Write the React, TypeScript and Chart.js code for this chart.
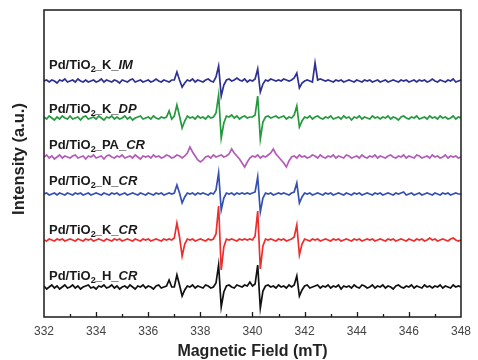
import React, { useEffect, useRef } from "react";
import { Chart, registerables } from "chart.js";

Chart.register(...registerables);

// Sweep grid of the spectra (mT)
const FIELD_START = 332;
const FIELD_STEP = 0.1;
const FIELD_MIN = 332;
const FIELD_MAX = 348;
const fieldTicks = [332, 334, 336, 338, 340, 342, 344, 346, 348];

// Series names
const seriesSites = ["K", "K", "PA", "N", "K", "H"];
const seriesMethods = ["IM", "DP", "CR", "CR", "CR", "CR"];
// Vertical stacking offsets (a.u.)
const seriesOffsets = [236, 199, 160, 123, 77, 30];

// Spectra relative to their offsets, 332.0 .. 348.0 mT every 0.1 mT
const spectrumIM = [
  0, 1, -1, 1, 0, -2, 1, 0, 2, -1,
  0, 1, -1, 2, 0, -1, 1, -1, 0, 1,
  -1, 0, 2, -1, 1, 0, -1, 1, 0, -2,
  1, 0, -1, 1, 2, -1, 0, 1, -1, 0,
  1, -1, 0, 2, 0, -1, 1, 0, -1, 1,
  1, 9, 1, -6, -2, 1, 0, 2, -1, 1,
  0, -1, 1, 2, 0, -1, 4, 15, -15, -4,
  1, 2, 0, 1, 3, 1, 0, 2, -1, 1,
  0, 2, 12, -11, -3, 1, 0, 2, 1, 0,
  1, 0, 2, 1, 0, 1, 3, 8, -7, -2,
  0, 1, 0, -1, 18, 1, 2, 1, 0, 1,
  0, -1, 1, 0, 1, -1, 0, 1, 0, -1,
  1, 0, -1, 1, 0, 1, -1, 0, 1, -1,
  0, 1, -1, 0, 1, 0, -1, 1, 0, 1,
  -1, 0, 1, -1, 1, 0, 1, -1, 0, 2,
  0, -1, 1, 0, -1, 1, 0, 2, -1, 0,
  1,
];
const spectrumDP = [
  1, -1, 2, 0, -2, 1, -1, 2, 0, -1,
  2, -1, 0, 1, -2, 1, 2, -1, 0, 1,
  -1, 2, 0, -2, 1, 0, 2, -1, 1, -1,
  0, 2, -1, 1, -2, 0, 1, 2, -1, 0,
  1, -1, 2, 0, -1, 1, 0, 1, 7, -1,
  2, 13, 2, -10, -3, 2, 0, 1, -1, 2,
  0, 1, -1, 2, 0, 1, 5, 23, -20, -5,
  2, 1, 3, 0, 2, -1, 1, 2, 0, 1,
  1, 3, 22, -21, -4, 1, 2, 0, 1, 2,
  0, 1, 2, -1, 1, 0, 3, 12, -9, -3,
  1, 0, 2, -1, 1, 2, 0, -1, 1, 0,
  2, -1, 0, 1, -1, 2, 0, 1, -2, 1,
  0, 2, -1, 1, 0, -1, 2, 0, 1, -1,
  1, 0, 2, -1, 1, 0, -2, 1, 2, 0,
  -1, 1, 0, 2, -1, 0, 1, -1, 2, 0,
  1, -1, 2, 0, 1, -1, 0, 2, -1, 1,
  0,
];
const spectrumPA = [
  0, 2, -1, 1, -2, 0, 2, -1, 1, 0,
  -1, 1, 2, -1, 0, 1, -2, 1, 0, 2,
  -1, 0, 1, -2, 1, 2, 0, -1, 1, 0,
  2, -1, 0, 1, -1, 2, 0, -2, 1, 0,
  1, -1, 2, 0, 1, -1, 0, 2, 1, -1,
  0, 2, 1, -1, 1, 4, 10, 5, 1, -3,
  -5, -3, 0, 1, -1, 2, 0, 1, 2, 0,
  1, 3, 8, 4, 1, -2, -6, -10, -5, -1,
  1, 0, 2, -1, 1, 0, 2, 4, 8, 3,
  0, -3, -6, -10, -4, 0, 1, -1, 2, 0,
  1, -1, 0, 2, 1, -1, 2, 0, -1, 1,
  0, 2, -1, 1, 0, -1, 2, 1, -1, 0,
  1, -1, 2, 0, -1, 1, 0, 2, -1, 1,
  0, -1, 1, 2, 0, -1, 1, 0, 2, -1,
  1, 0, -1, 2, 1, -1, 0, 1, -1, 2,
  0, 1, -1, 0, 2, -1, 1, 0, 1, -1,
  0,
];
const spectrumN = [
  0, 1, -1, 0, 1, -1, 1, 0, -1, 1,
  0, -1, 1, 0, 1, -1, 0, 1, -1, 0,
  1, 0, -1, 1, 0, -1, 1, 0, 1, -1,
  0, 1, -1, 0, 1, 0, -1, 1, 0, -1,
  1, 0, -1, 1, 0, 1, -1, 0, 1, 0,
  1, 9, 1, -9, -3, 1, 0, 1, -1, 1,
  0, 1, 0, -1, 1, 0, 4, 21, -16, -4,
  1, 0, 1, -1, 1, 0, 1, 0, 1, 0,
  1, 2, 17, -18, -4, 1, 0, 1, -1, 0,
  1, 0, 1, 0, -1, 1, 2, 11, -9, -3,
  1, 0, 1, -1, 0, 1, 0, -1, 1, 0,
  1, -1, 0, 1, 0, -1, 1, 0, -1, 1,
  0, 1, -1, 0, 1, 0, -1, 1, 0, 1,
  -1, 0, 1, 0, -1, 1, 0, 1, 2, -1,
  0, 1, -1, 0, 1, -1, 0, 1, 0, -1,
  1, 0, -1, 1, 0, 1, -1, 0, 1, 0,
  0,
];
const spectrumK = [
  0, -1, 1, 0, -1, 1, 0, 1, -1, 0,
  1, 0, -1, 1, 0, -1, 1, 0, 1, -1,
  0, 1, 0, -1, 1, 0, -1, 1, 0, 1,
  -1, 0, 1, 0, -1, 1, 0, -1, 1, 0,
  1, -1, 0, 1, 0, -1, 1, 0, 1, 0,
  2, 17, 3, -16, -4, 1, 0, 1, -1, 0,
  1, 0, -1, 1, 0, 1, 6, 34, -30, -7,
  1, 0, 1, 0, -1, 1, 0, 1, 0, 1,
  0, 4, 29, -29, -6, 1, 0, 1, 0, -1,
  1, 0, 1, -1, 0, 1, 3, 15, -15, -4,
  1, 0, -1, 1, 0, 1, -1, 0, 1, 0,
  -1, 1, 0, 1, -1, 0, 1, 0, -1, 1,
  0, 1, -1, 0, 1, 0, 1, -1, 0, 1,
  0, -1, 1, 0, 1, -1, 0, 1, 0, -1,
  1, 0, -1, 1, 0, 1, -1, 0, 2, 0,
  1, -1, 0, 1, 0, -1, 1, 2, 0, -1,
  0,
];
const spectrumH = [
  1, -2, 0, 2, -1, 1, -2, 0, 2, -1,
  0, 2, -1, 1, -2, 0, 1, 2, -1, 0,
  -2, 1, 0, 2, -1, 0, 2, -1, 1, -2,
  0, 1, -1, 2, 0, -2, 1, 0, 2, -1,
  1, 0, -2, 1, 2, -1, 0, 1, 7, 0,
  0, 12, 2, -9, -3, 1, 0, 2, -1, 1,
  0, -1, 2, 1, -1, 0, 4, 22, -20, -5,
  1, 2, 0, -1, 2, 1, 0, 2, 1, 5,
  1, 3, 22, -21, -4, 1, 2, 0, 1, -1,
  2, 0, 1, -1, 2, 0, 2, 11, -9, -3,
  1, 2, -1, 0, 1, 2, -1, 1, 0, 2,
  -1, 1, 0, 2, -2, 1, 0, 1, -1, 2,
  0, -1, 2, 1, -1, 0, 2, -1, 1, 0,
  2, -1, 1, 0, -2, 1, 2, 0, -1, 1,
  0, 2, -1, 1, 0, -1, 2, 0, 1, -1,
  1, 0, 2, -1, 1, 0, -1, 2, 0, 1,
  0,
];

const spectra = [spectrumIM, spectrumDP, spectrumPA, spectrumN, spectrumK, spectrumH];
const seriesColors = ["#2e3192", "#24993d", "#b25cb8", "#3451b2", "#ee2d2d", "#111111"];
// label baseline lift above each trace (px)
const labelLift = [12.5, 5.5, 8.5, 9, 6.5, 7.5];

const FONT = '"Liberation Sans", Arial, Helvetica, sans-serif';

const decorPlugin = {
  id: "decor",
  afterDatasetsDraw(chart: any) {
    const { ctx, chartArea } = chart;
    const xs = chart.scales.x;
    const ys = chart.scales.y;
    ctx.save();
    // frame
    ctx.strokeStyle = "#1a1a1a";
    ctx.lineWidth = 1.5;
    ctx.strokeRect(chartArea.left, chartArea.top, chartArea.right - chartArea.left, chartArea.bottom - chartArea.top);
    // inner ticks on bottom axis
    ctx.lineWidth = 1.3;
    for (let v = FIELD_MIN + 1; v < FIELD_MAX; v += 1) {
      const px = Math.round(xs.getPixelForValue(v)) + 0.5;
      const len = fieldTicks.includes(v) ? 5 : 3;
      ctx.beginPath();
      ctx.moveTo(px, chartArea.bottom);
      ctx.lineTo(px, chartArea.bottom - len);
      ctx.stroke();
    }
    // series labels
    ctx.fillStyle = "#1a1a1a";
    ctx.textBaseline = "alphabetic";
    ctx.textAlign = "left";
    seriesOffsets.forEach((off, i) => {
      let x = chartArea.left + 5;
      const y = ys.getPixelForValue(off) - labelLift[i];
      ctx.font = `bold 13px ${FONT}`;
      ctx.fillText("Pd/TiO", x, y);
      x += ctx.measureText("Pd/TiO").width;
      ctx.font = `bold 9px ${FONT}`;
      ctx.fillText("2", x, y + 3);
      x += ctx.measureText("2").width - 1;
      ctx.font = `bold 13px ${FONT}`;
      const mid = "_" + seriesSites[i] + "_";
      ctx.fillText(mid, x, y);
      x += ctx.measureText(mid).width;
      ctx.font = `italic bold 13px ${FONT}`;
      ctx.fillText(seriesMethods[i], x, y);
    });
    // y title
    ctx.save();
    ctx.translate(19, 159);
    ctx.rotate(-Math.PI / 2);
    ctx.font = `bold 16.5px ${FONT}`;
    ctx.fillStyle = "#222";
    ctx.textAlign = "center";
    ctx.textBaseline = "middle";
    ctx.fillText("Intensity (a.u.)", 0, 0);
    ctx.restore();
    ctx.restore();
  },
};

export default function App() {
  const canvasRef = useRef<HTMLCanvasElement | null>(null);

  useEffect(() => {
    document.body.style.margin = "0";
    const canvas = canvasRef.current;
    if (!canvas) return;
    const datasets = spectra.map((s, i) => ({
      label: "Pd/TiO2_" + seriesSites[i] + "_" + seriesMethods[i],
      data: s.map((v, k) => ({ x: FIELD_START + k * FIELD_STEP, y: seriesOffsets[i] + v })),
      borderColor: seriesColors[i],
      borderWidth: 1.7,
      pointRadius: 0,
      tension: 0,
      fill: false,
    }));
    const chart = new Chart(canvas, {
      type: "line",
      data: { datasets },
      plugins: [decorPlugin],
      options: {
        animation: false,
        responsive: true,
        maintainAspectRatio: false,
        layout: { padding: { top: 10, right: 12, left: 0, bottom: 0 } },
        plugins: { legend: { display: false }, tooltip: { enabled: false } },
        scales: {
          x: {
            type: "linear",
            min: FIELD_MIN,
            max: FIELD_MAX,
            grid: { display: false, drawTicks: false },
            border: { display: false },
            afterBuildTicks: (scale: any) => {
              scale.ticks = fieldTicks.map((v) => ({ value: v }));
            },
            afterFit: (scale: any) => {
              scale.height = 43;
            },
            ticks: {
              padding: 7,
              maxRotation: 0,
              autoSkip: false,
              color: "#444",
              font: { family: FONT, size: 12 },
              callback: (v: any) => String(v),
            },
            title: {
              display: true,
              text: "Magnetic Field (mT)",
              color: "#222",
              font: { family: FONT, size: 16, weight: "bold", lineHeight: 1 },
              padding: 0,
            },
          },
          y: {
            type: "linear",
            min: 0,
            max: 307,
            grid: { display: false, drawTicks: false },
            border: { display: false },
            ticks: { display: false },
            afterFit: (scale: any) => {
              scale.width = 44;
            },
          },
        },
      },
    } as any);
    return () => chart.destroy();
  }, []);

  return (
    <div style={{ position: "relative", width: 478, height: 360 }}>
      <canvas ref={canvasRef} />
    </div>
  );
}
